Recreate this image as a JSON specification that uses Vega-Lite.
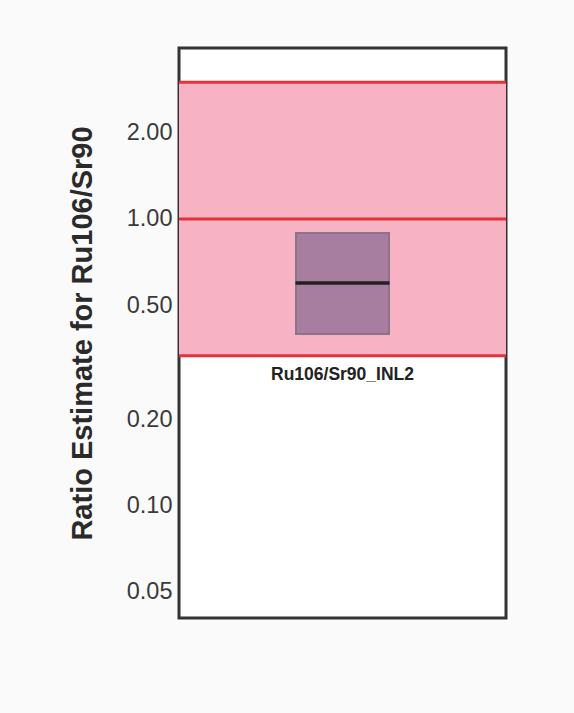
{
  "$schema": "https://vega.github.io/schema/vega-lite/v6.json",
  "width": 327,
  "height": 570,
  "autosize": {"type": "none"},
  "padding": {"left": 179, "top": 48, "right": 68, "bottom": 95},
  "background": "#fafafa",
  "config": {
    "view": {"fill": "white", "stroke": "#333333", "strokeWidth": 3},
    "font": "Liberation Sans"
  },
  "datasets": {
    "band": [{"lo": 0.3333, "hi": 3.0}],
    "lines": [{"v": 0.3333}, {"v": 1.0}, {"v": 3.0}],
    "box": [{"sample": "Ru106/Sr90_INL2", "low": 0.397, "high": 0.894, "median": 0.598, "labely": 0.274}]
  },
  "layer": [
    {
      "data": {"name": "band"},
      "mark": {"type": "rect", "color": "#f7b3c3"},
      "encoding": {
        "y": {"field": "lo", "type": "quantitative",
          "scale": {"type": "log", "domain": [0.0405, 3.95], "nice": false, "zero": false},
          "axis": {
            "values": [0.05, 0.1, 0.2, 0.5, 1, 2],
            "format": ".2f",
            "domain": false,
            "ticks": false,
            "grid": false,
            "labelFontSize": 23.5,
            "labelColor": "#3a3a3a",
            "labelPadding": 7,
            "title": "Ratio Estimate for Ru106/Sr90",
            "titleFontSize": 29,
            "titleFontWeight": "bold",
            "titleColor": "#2a2a2a",
            "titlePadding": 29
          }
        },
        "y2": {"field": "hi"}
      }
    },
    {
      "data": {"name": "lines"},
      "mark": {"type": "rule", "color": "#e8303a", "strokeWidth": 3},
      "encoding": {
        "y": {"field": "v", "type": "quantitative"}
      }
    },
    {
      "data": {"name": "box"},
      "mark": {"type": "bar", "size": 93, "color": "#a87ea0", "stroke": "#8c7385", "strokeWidth": 2},
      "encoding": {
        "x": {"field": "sample", "type": "nominal", "scale": {"type": "point"}, "axis": null},
        "y": {"field": "low", "type": "quantitative"},
        "y2": {"field": "high"}
      }
    },
    {
      "data": {"name": "box"},
      "mark": {"type": "tick", "orient": "horizontal", "size": 94, "thickness": 3.5, "color": "#222222", "opacity": 1},
      "encoding": {
        "x": {"field": "sample", "type": "nominal", "scale": {"type": "point"}, "axis": null},
        "y": {"field": "median", "type": "quantitative"}
      }
    },
    {
      "data": {"name": "box"},
      "mark": {"type": "text", "fontSize": 17.5, "fontWeight": "bold", "color": "#222222", "baseline": "alphabetic", "align": "center"},
      "encoding": {
        "x": {"field": "sample", "type": "nominal", "scale": {"type": "point"}, "axis": null},
        "y": {"field": "labely", "type": "quantitative"},
        "text": {"field": "sample"}
      }
    }
  ]
}
